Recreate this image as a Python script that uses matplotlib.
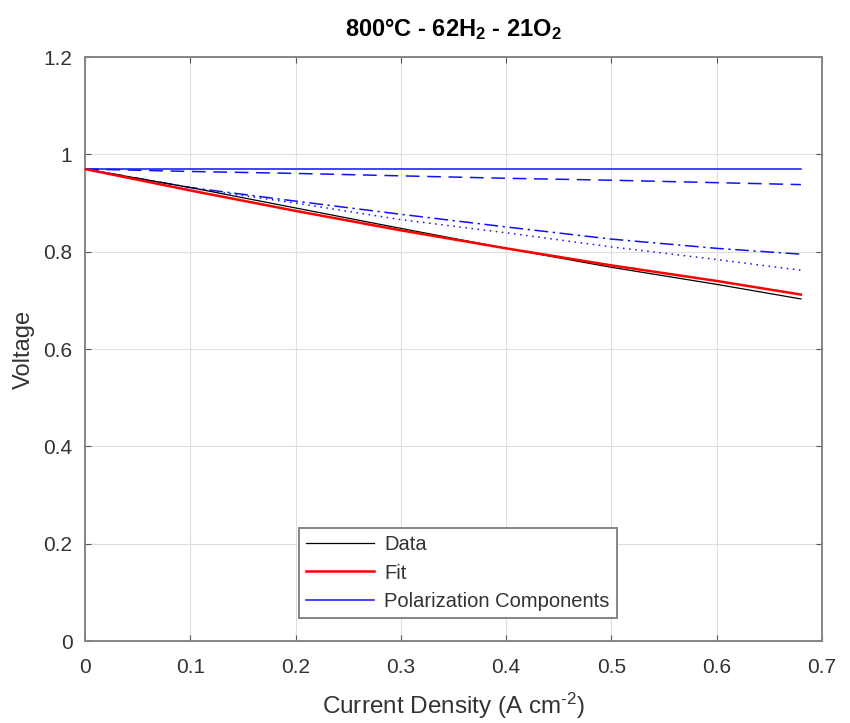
import numpy as np
import matplotlib
matplotlib.use("Agg")
import matplotlib.pyplot as plt

# Current density sample points (A cm^-2)
current = [0.0, 0.1, 0.2, 0.3, 0.4, 0.5, 0.6, 0.68]

# Measured cell voltage and fitted model
data_v = [0.970, 0.932, 0.890, 0.848, 0.807, 0.768, 0.733, 0.703]
fit_v = [0.970, 0.926, 0.884, 0.844, 0.807, 0.772, 0.740, 0.712]

# Polarization components
ocv_v = [0.970, 0.970, 0.970, 0.970, 0.970, 0.970, 0.970, 0.970]
ohmic_v = [0.970, 0.965, 0.961, 0.956, 0.951, 0.947, 0.942, 0.938]
act_v = [0.970, 0.932, 0.904, 0.877, 0.851, 0.826, 0.807, 0.795]
conc_v = [0.970, 0.931, 0.900, 0.866, 0.839, 0.810, 0.784, 0.762]

x_ticks = [0, 0.1, 0.2, 0.3, 0.4, 0.5, 0.6, 0.7]
x_tick_labels = ["0", "0.1", "0.2", "0.3", "0.4", "0.5", "0.6", "0.7"]
y_ticks = [0, 0.2, 0.4, 0.6, 0.8, 1.0, 1.2]
y_tick_labels = ["0", "0.2", "0.4", "0.6", "0.8", "1", "1.2"]

plt.rcParams["font.family"] = ["Liberation Sans", "DejaVu Sans"]
plt.rcParams["mathtext.fontset"] = "custom"
plt.rcParams["mathtext.rm"] = "Liberation Sans"
plt.rcParams["mathtext.it"] = "Liberation Sans"
plt.rcParams["mathtext.bf"] = "Liberation Sans:bold"

text_col = "#333333"
fig = plt.figure(figsize=(8.5, 7.23), dpi=100)
ax = fig.add_axes([0.1, 0.1134, 0.867, 0.8076])

blue = "#1010ff"
ax.plot(current, data_v, color="black", lw=0.9, label="Data", zorder=3)
ax.plot(current, fit_v, color="red", lw=1.8, label="Fit", zorder=4)
ax.plot(current, ocv_v, color=blue, lw=1.1, ls="-", label="Polarization Components", zorder=2)
ax.plot(current, ohmic_v, color=blue, lw=1.1, ls=(0, (9, 5)), zorder=2)
ax.plot(current, act_v, color=blue, lw=1.1, ls=(0, (9, 3, 1.5, 3)), zorder=2)
ax.plot(current, conc_v, color=blue, lw=1.1, ls=(0, (1, 3)), zorder=2)

ax.set_xlim(0, 0.7)
ax.set_ylim(0, 1.2)
ax.set_xticks(x_ticks)
ax.set_xticklabels(x_tick_labels)
ax.set_yticks(y_ticks)
ax.set_yticklabels(y_tick_labels)

ax.grid(True, color="#dedede", lw=0.8)
ax.set_axisbelow(True)
ax.tick_params(direction="in", top=True, right=True, length=4, width=0.8,
               color="#555555", labelcolor=text_col, labelsize=15)
ax.tick_params(axis="x", pad=12)
ax.tick_params(axis="y", pad=9)
for sp in ax.spines.values():
    sp.set_color("#858585")
    sp.set_linewidth(1.4)

ax.set_xlabel(r"Current Density (A cm$^{\text{-}2}$)", fontsize=17.5, color=text_col, labelpad=10)
ax.set_ylabel("Voltage", fontsize=17, color=text_col, labelpad=6)
ax.set_title(r"800°C - 62H$_\mathbf{2}$ - 21O$_\mathbf{2}$", fontsize=17,
             fontweight="bold", color="black", pad=15)

leg = ax.legend(loc="lower center", bbox_to_anchor=(0.5055, 0.04), fontsize=14.5,
                frameon=True, fancybox=False, framealpha=1, edgecolor="#858585",
                handlelength=3.4, borderpad=0.35, labelspacing=0.45, handletextpad=0.5,
                borderaxespad=0)
leg.get_frame().set_linewidth(1.4)
for t in leg.get_texts():
    t.set_color(text_col)

fig.savefig("out.png", dpi=100)
